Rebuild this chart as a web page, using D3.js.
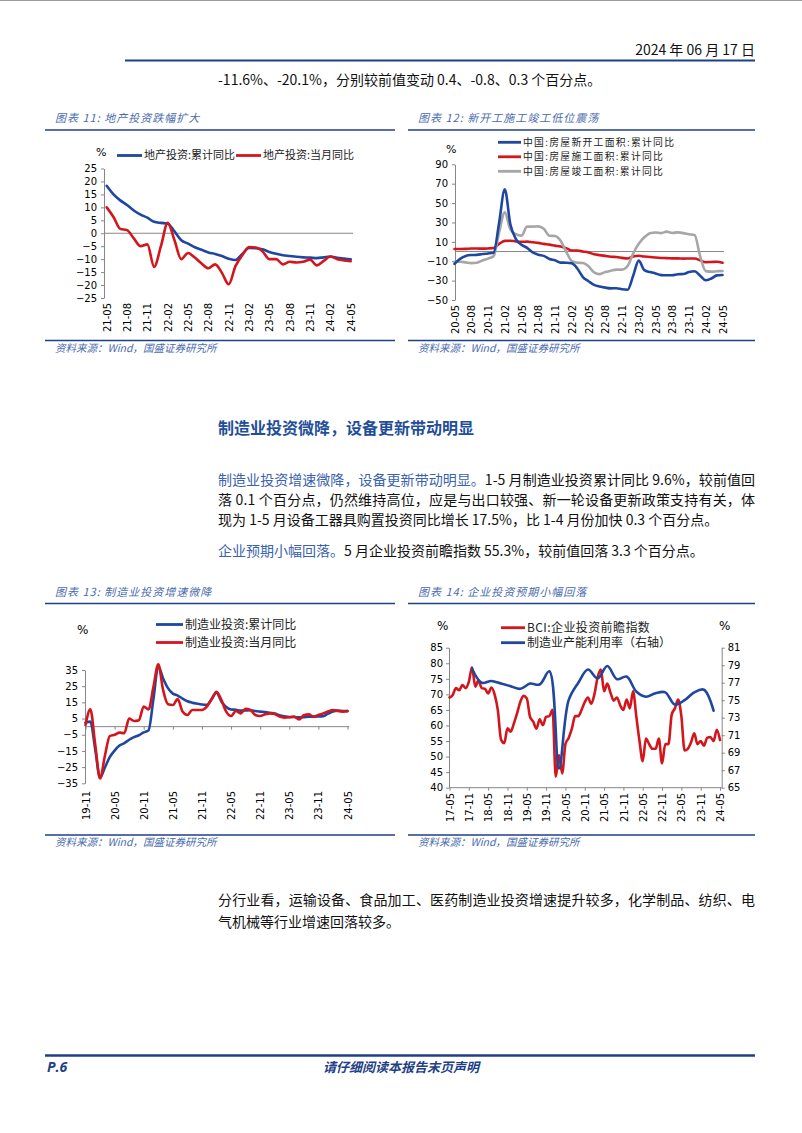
<!DOCTYPE html>
<html><head><meta charset="utf-8">
<script src="https://cdn.jsdelivr.net/npm/d3@7/dist/d3.min.js"></script>
<style>
html,body{margin:0;padding:0;background:#fff;}
#page{width:802px;height:1133px;overflow:hidden;}
</style>
</head><body><div id="page"></div>
<script>
// ---------------- DATA ----------------
// Chart 11: 地产投资 (monthly 21-05 .. 24-05)
const c11Start = '21-05', c11End = '24-05';
const c11Ticks = ['21-05','21-08','21-11','22-02','22-05','22-08','22-11','23-02','23-05','23-08','23-11','24-02','24-05'];
const c11YTicks = [25,20,15,10,5,0,-5,-10,-15,-20,-25];
const c11Cum = [18.3,15.0,12.7,10.9,8.8,7.2,6.0,4.4,
  4.0,3.7,0.7,-2.7,-4.0,-5.4,-6.4,-7.4,-8.0,-8.8,-9.8,-10.3,
  -8.0,-5.7,-5.8,-6.2,-7.2,-7.9,-8.5,-8.8,-9.1,-9.3,-9.4,-9.6,
  -9.3,-9.0,-9.5,-9.8,-10.1];
const c11Mon = [10.0,6.3,1.7,1.2,-2.0,-5.0,-4.3,-13.0,
  -5.0,4.0,-2.7,-10.0,-7.6,-9.4,-11.7,-13.5,-12.0,-15.3,-19.7,-12.7,
  -8.5,-5.3,-5.5,-7.0,-10.0,-10.0,-12.0,-11.0,-11.3,-11.0,-10.2,-12.4,
  -10.7,-9.0,-10.0,-10.5,-10.8];

// Chart 12: 新开工/施工/竣工 (monthly 20-05 .. 24-05)
const c12Start = '20-05', c12End = '24-05';
const c12Ticks = ['20-05','20-08','20-11','21-02','21-05','21-08','21-11','22-02','22-05','22-08','22-11','23-02','23-05','23-08','23-11','24-02','24-05'];
const c12YTicks = [90,70,50,30,10,-10,-30,-50];
const c12New = [-12.8,-7.6,-4.5,-3.6,-3.4,-2.6,-2.0,-1.2,
  30.0,64.3,28.2,12.8,6.9,3.8,-0.9,-3.2,-4.5,-7.7,-9.1,-11.4,
  -11.5,-12.2,-17.5,-26.3,-30.6,-34.4,-36.1,-37.2,-38.0,-37.8,-38.9,-39.4,
  -25.0,-9.4,-19.2,-21.2,-22.6,-24.3,-24.5,-24.4,-23.4,-23.2,-21.2,-20.4,
  -25.0,-29.7,-27.8,-24.6,-24.2];
const c12Cons = [2.6,2.6,2.7,3.1,3.1,3.0,3.2,3.7,
  8.0,11.0,11.2,10.5,10.1,10.2,9.5,8.9,7.9,7.1,6.1,5.2,
  3.5,1.0,1.0,0.0,-1.0,-2.8,-3.7,-4.5,-5.3,-5.7,-6.5,-7.2,
  -5.0,-4.4,-5.2,-5.6,-6.2,-6.6,-6.8,-7.1,-7.1,-7.3,-7.2,-7.2,
  -9.0,-11.0,-10.8,-10.5,-11.6];
const c12Comp = [-10.6,-10.5,-11.2,-12.0,-11.6,-9.2,-7.3,-4.9,
  20.0,40.4,22.9,17.9,16.4,25.7,25.7,26.0,23.4,16.3,16.0,11.2,
  0.0,-9.8,-11.5,-11.9,-15.3,-21.5,-23.3,-21.1,-19.9,-18.7,-18.7,-15.0,
  -2.0,8.0,14.7,18.8,19.6,19.0,20.5,19.2,19.8,19.0,17.9,17.0,
  -5.0,-20.2,-20.7,-20.4,-20.1];

// Chart 13: 制造业投资 (monthly 19-11 .. 24-05)
const c13Start = '19-11', c13End = '24-05';
const c13Ticks = ['19-11','20-05','20-11','21-05','21-11','22-05','22-11','23-05','23-11','24-05'];
const c13YTicks = [35,25,15,5,-5,-15,-25,-35];
const c13Cum = [2.5,3.1,
  -14.0,-31.5,-25.2,-18.8,-14.8,-11.7,-10.2,-8.1,-6.5,-5.3,-3.5,-2.2,
  17.0,37.3,29.8,23.8,20.4,19.2,17.3,15.7,14.8,14.2,13.7,13.5,
  17.0,20.9,15.6,12.2,10.6,10.4,9.9,10.0,10.1,9.7,9.3,9.1,
  8.6,8.1,7.0,6.4,6.0,6.0,5.7,5.9,6.2,6.2,6.3,6.5,
  8.0,9.4,9.9,9.7,9.6];
const c13Mon = [1.0,10.7,
  -11.0,-32.0,-18.0,-5.8,-5.0,-3.7,-4.0,5.0,3.5,4.0,12.4,10.7,
  24.6,38.5,22.6,13.8,13.4,17.0,9.3,7.2,10.3,10.3,10.3,12.4,
  17.0,21.6,16.5,9.3,6.6,9.7,8.2,11.0,10.3,7.2,6.6,7.6,
  8.2,7.8,6.2,5.6,5.8,6.2,4.5,7.0,7.6,6.2,7.2,8.2,
  9.3,10.3,9.7,9.3,9.7];

// Chart 14: BCI 企业投资前瞻指数 (monthly 17-05 .. 24-05) & 产能利用率 (quarterly, right axis)
const c14Start = '17-05', c14End = '24-05';
const c14Ticks = ['17-05','17-11','18-05','18-11','19-05','19-11','20-05','20-11','21-05','21-11','22-05','22-11','23-05','23-11','24-05'];
const c14YTicksL = [85,80,75,70,65,60,55,50,45,40];
const c14YTicksR = [81,79,77,75,73,71,69,67,65];
const c14BCI = [69.0,69.8,72.0,71.3,73.0,72.0,74.0,78.7,
  72.5,74.5,72.0,71.8,70.3,72.2,70.0,65.0,55.5,54.3,59.1,58.0,
  60.7,64.0,67.6,69.5,68.7,62.8,61.2,59.0,62.0,60.1,62.8,63.0,
  65.0,43.5,50.5,44.6,54.0,56.0,59.0,63.0,63.0,65.0,67.5,69.0,
  67.0,70.0,75.5,78.0,71.0,73.5,70.5,68.0,69.0,66.5,65.0,68.3,
  65.5,71.0,63.0,55.0,48.5,55.8,54.0,52.5,52.5,55.8,47.8,54.0,
  54.0,63.5,65.5,68.3,63.0,52.0,52.5,54.5,57.5,54.0,55.0,53.5,
  56.0,56.3,55.0,58.6,55.3];
const c14CapMonths = ['17-12','18-03','18-06','18-09','18-12','19-03','19-06','19-09','19-12','20-03','20-06','20-09','20-12','21-03','21-06','21-09','21-12','22-03','22-06','22-09','22-12','23-03','23-06','23-09','23-12','24-03'];
const c14Cap = [78.6,77.0,77.2,76.9,76.6,76.3,76.9,76.8,78.3,67.2,75.0,77.0,78.5,77.5,78.9,77.4,77.7,76.0,75.4,75.8,75.9,74.5,75.0,75.9,76.2,73.8];

// ---------------- HELPERS ----------------
const CJK = '"Noto Sans CJK SC","Noto Sans",sans-serif';
const NUM = '"DejaVu Sans",Verdana,sans-serif';
const BLUE = '#1f47a0', RED = '#d3161c', GRAY = '#a6a6a6', AX = '#868686';
const DARK = '#1f3f86', TITLE = '#4a6cae';

function monthRange(a, b) {
  let [y, m] = a.split('-').map(Number);
  const [y2, m2] = b.split('-').map(Number);
  const out = [];
  while (y < y2 || (y === y2 && m <= m2)) {
    out.push(String(y).padStart(2, '0') + '-' + String(m).padStart(2, '0'));
    m++; if (m > 12) { m = 1; y++; }
  }
  return out;
}

const svg = d3.select('#page').append('svg').attr('width', 802).attr('height', 1133)
  .style('display', 'block');

function txt(x, y, s, o = {}) {
  const t = svg.append('text').attr('x', x).attr('y', y)
    .attr('font-family', o.family || CJK).attr('font-size', o.size || 14)
    .attr('fill', o.fill || '#111').text(s);
  if (o.anchor) t.attr('text-anchor', o.anchor);
  if (o.weight) t.attr('font-weight', o.weight);
  if (o.style) t.attr('font-style', o.style);
  if (o.ls) t.attr('letter-spacing', o.ls);
  return t;
}
function hline(x1, x2, y, color, w) {
  svg.append('line').attr('x1', x1).attr('x2', x2).attr('y1', y).attr('y2', y)
    .attr('stroke', color).attr('stroke-width', w);
}
function styleAxis(sel) {
  sel.attr('font-family', NUM).attr('font-size', 10);
  sel.select('.domain').attr('stroke', AX);
  sel.selectAll('.tick line').attr('stroke', AX);
  sel.selectAll('.tick text').attr('fill', '#000');
}
function xLabels(x, ticks, yTop) {
  const ax = svg.append('g').attr('transform', `translate(0,${yTop})`)
    .call(d3.axisBottom(x).tickValues(ticks).tickSize(0).tickPadding(0));
  ax.select('.domain').remove();
  styleAxis(ax);
  ax.selectAll('.tick text').attr('transform', 'rotate(-90)').attr('text-anchor', 'end')
    .attr('x', 0).attr('y', 0).attr('dy', '0.36em');
}
function yAxisLeft(y, ticks, xPos, pad) {
  const ax = svg.append('g').attr('transform', `translate(${xPos},0)`)
    .call(d3.axisLeft(y).tickValues(ticks).tickSize(3).tickSizeOuter(0).tickPadding(pad || 4));
  styleAxis(ax);
  return ax;
}
function zeroLine(x, y, x1, x2) {
  svg.append('line').attr('x1', x1).attr('x2', x2).attr('y1', y(0)).attr('y2', y(0))
    .attr('stroke', AX).attr('stroke-width', 1);
}
function series(x, y, cats, vals, color, curve) {
  const data = cats.map((c, i) => ({ c, v: vals[i] }));
  svg.append('path').datum(data).attr('fill', 'none').attr('stroke', color)
    .attr('stroke-width', 2.6).attr('stroke-linejoin', 'round').attr('stroke-linecap', 'round')
    .attr('d', d3.line().x(d => x(d.c)).y(d => y(d.v)).curve(curve || d3.curveMonotoneX));
}
function legendItem(x1, x2, y, color, label, size, ls) {
  svg.append('line').attr('x1', x1).attr('x2', x2).attr('y1', y).attr('y2', y)
    .attr('stroke', color).attr('stroke-width', 2.8);
  txt(x2 + 2, y + size * 0.36, label, { size: size, fill: '#222', ls: ls });
}
function frame(x1, x2, titleY, lineY, srcLineY, srcY, title) {
  txt(x1 + 10, titleY, title, { size: 11, fill: TITLE, style: 'italic', ls: 1 });
  hline(x1, x2, lineY, DARK, 1.6);
  hline(x1, x2, srcLineY, DARK, 1.6);
  txt(x1 + 10, srcY, '资料来源：Wind，国盛证券研究所', { size: 10.5, fill: TITLE, style: 'italic' });
}

// ---------------- PAGE TEXT ----------------
hline(0, 802, 0.5, '#9c9c9c', 1.2);
txt(755, 55, '2024 年 06 月 17 日', { anchor: 'end', size: 14, fill: '#111' });
hline(125, 755, 60.5, DARK, 2);
txt(218, 85, '-11.6%、-20.1%，分别较前值变动 0.4、-0.8、0.3 个百分点。', { size: 14 });

txt(218, 434, '制造业投资微降，设备更新带动明显', { size: 16, weight: 'bold', fill: '#1f4e9a' });

{
  const t = txt(218, 485, '', { size: 14 });
  t.append('tspan').attr('fill', '#3a62ae').text('制造业投资增速微降，设备更新带动明显。');
  t.append('tspan').text('1-5 月制造业投资累计同比 9.6%，较前值回');
  t.attr('textLength', 537).attr('lengthAdjust', 'spacing');
}
txt(218, 505, '落 0.1 个百分点，仍然维持高位，应是与出口较强、新一轮设备更新政策支持有关，体', { size: 14 })
  .attr('textLength', 537).attr('lengthAdjust', 'spacing');
txt(218, 525, '现为 1-5 月设备工器具购置投资同比增长 17.5%，比 1-4 月份加快 0.3 个百分点。', { size: 14 });
{
  const t = txt(218, 556, '', { size: 14 });
  t.append('tspan').attr('fill', '#3a62ae').text('企业预期小幅回落。');
  t.append('tspan').text('5 月企业投资前瞻指数 55.3%，较前值回落 3.3 个百分点。');
}
txt(218, 905, '分行业看，运输设备、食品加工、医药制造业投资增速提升较多，化学制品、纺织、电', { size: 14 })
  .attr('textLength', 537).attr('lengthAdjust', 'spacing');
txt(218, 927, '气机械等行业增速回落较多。', { size: 14 });

hline(45, 755, 1055.5, DARK, 2.6);
txt(47, 1072, 'P.6', { size: 14, weight: 'bold', style: 'italic', fill: DARK, family: '"Open Sans","Noto Sans",sans-serif' });
txt(401, 1072, '请仔细阅读本报告末页声明', { size: 13, weight: 'bold', style: 'italic', fill: DARK, anchor: 'middle' });

// ---------------- CHART 11 ----------------
frame(45, 395, 122, 130, 340.5, 352, '图表 11: 地产投资跌幅扩大');
{
  const cats = monthRange(c11Start, c11End);
  const x = d3.scalePoint().domain(cats).range([106.7, 350.7]);
  const y = d3.scaleLinear().domain([-25, 25]).range([298, 168.5]);
  yAxisLeft(y, c11YTicks, 104, 4);
  zeroLine(x, y, 104, 353);
  xLabels(x, c11Ticks, 303);
  series(x, y, cats, c11Cum, BLUE);
  series(x, y, cats, c11Mon, RED);
  txt(96, 156, '%', { family: NUM, size: 11, fill: '#000' });
  legendItem(117, 142, 155.5, BLUE, '地产投资:累计同比', 11);
  legendItem(236, 261, 155.5, RED, '地产投资:当月同比', 11);
}

// ---------------- CHART 12 ----------------
frame(408, 755, 122, 130, 340.5, 352, '图表 12: 新开工施工竣工低位震荡');
{
  const cats = monthRange(c12Start, c12End);
  const x = d3.scalePoint().domain(cats).range([454.5, 722.5]);
  const y = d3.scaleLinear().domain([-50, 90]).range([300, 164.3]);
  yAxisLeft(y, c12YTicks, 455, 4);
  zeroLine(x, y, 455, 724);
  xLabels(x, c12Ticks, 305);
  series(x, y, cats, c12Cons, RED);
  series(x, y, cats, c12Comp, GRAY);
  series(x, y, cats, c12New, BLUE);
  txt(446, 153, '%', { family: NUM, size: 11, fill: '#000' });
  legendItem(498, 521, 142.3, BLUE, '中国:房屋新开工面积:累计同比', 9.8, 1.3);
  legendItem(498, 521, 156.8, RED, '中国:房屋施工面积:累计同比', 9.8, 1.3);
  legendItem(498, 521, 171.3, GRAY, '中国:房屋竣工面积:累计同比', 9.8, 1.3);
}

// ---------------- CHART 13 ----------------
frame(45, 395, 596, 603.5, 835, 846, '图表 13: 制造业投资增速微降');
{
  const cats = monthRange(c13Start, c13End);
  const x = d3.scalePoint().domain(cats).range([85.5, 347.5]);
  const y = d3.scaleLinear().domain([-35, 35]).range([783.3, 670]);
  yAxisLeft(y, c13YTicks, 85, 4);
  zeroLine(x, y, 85, 349);
  const zt = svg.append('g').attr('transform', `translate(0,${y(0)})`)
    .call(d3.axisBottom(x).tickValues(c13Ticks).tickSize(3).tickFormat(''));
  zt.select('.domain').remove();
  zt.selectAll('.tick line').attr('stroke', AX);
  xLabels(x, c13Ticks, 791);
  series(x, y, cats, c13Cum, BLUE);
  series(x, y, cats, c13Mon, RED);
  txt(77, 634, '%', { family: NUM, size: 12, fill: '#000' });
  legendItem(156, 183, 624.5, BLUE, '制造业投资:累计同比', 12);
  legendItem(156, 183, 642.5, RED, '制造业投资:当月同比', 12);
}

// ---------------- CHART 14 ----------------
frame(408, 755, 596, 603.5, 835, 846, '图表 14: 企业投资预期小幅回落');
{
  const cats = monthRange(c14Start, c14End);
  const x = d3.scalePoint().domain(cats).range([449.5, 720]);
  const yL = d3.scaleLinear().domain([40, 85]).range([787.7, 647.7]);
  const yR = d3.scaleLinear().domain([65, 81]).range([787.7, 647.7]);
  yAxisLeft(yL, c14YTicksL, 449, 3);
  const axR = svg.append('g').attr('transform', 'translate(721.7,0)')
    .call(d3.axisRight(yR).tickValues(c14YTicksR).tickSize(3).tickSizeOuter(0).tickPadding(3));
  styleAxis(axR);
  const axB = svg.append('g').attr('transform', 'translate(0,787.7)')
    .call(d3.axisBottom(x).tickValues(c14Ticks).tickSize(3).tickSizeOuter(0).tickFormat(''));
  axB.select('.domain').attr('stroke', AX).attr('d', 'M449,0H721.7');
  axB.selectAll('.tick line').attr('stroke', AX);
  xLabels(x, c14Ticks, 793);
  series(x, yL, cats, c14BCI, RED, d3.curveMonotoneX);
  series(x, yR, c14CapMonths, c14Cap, BLUE, d3.curveCatmullRom.alpha(0.5));
  txt(437, 630, '%', { family: NUM, size: 12, fill: '#000' });
  txt(719, 630, '%', { family: NUM, size: 12, fill: '#000' });
  legendItem(501, 525, 627.7, RED, 'BCI:企业投资前瞻指数', 12, 0.4);
  legendItem(501, 525, 642.7, BLUE, '制造业产能利用率（右轴）', 12);
}
</script>
</body></html>
